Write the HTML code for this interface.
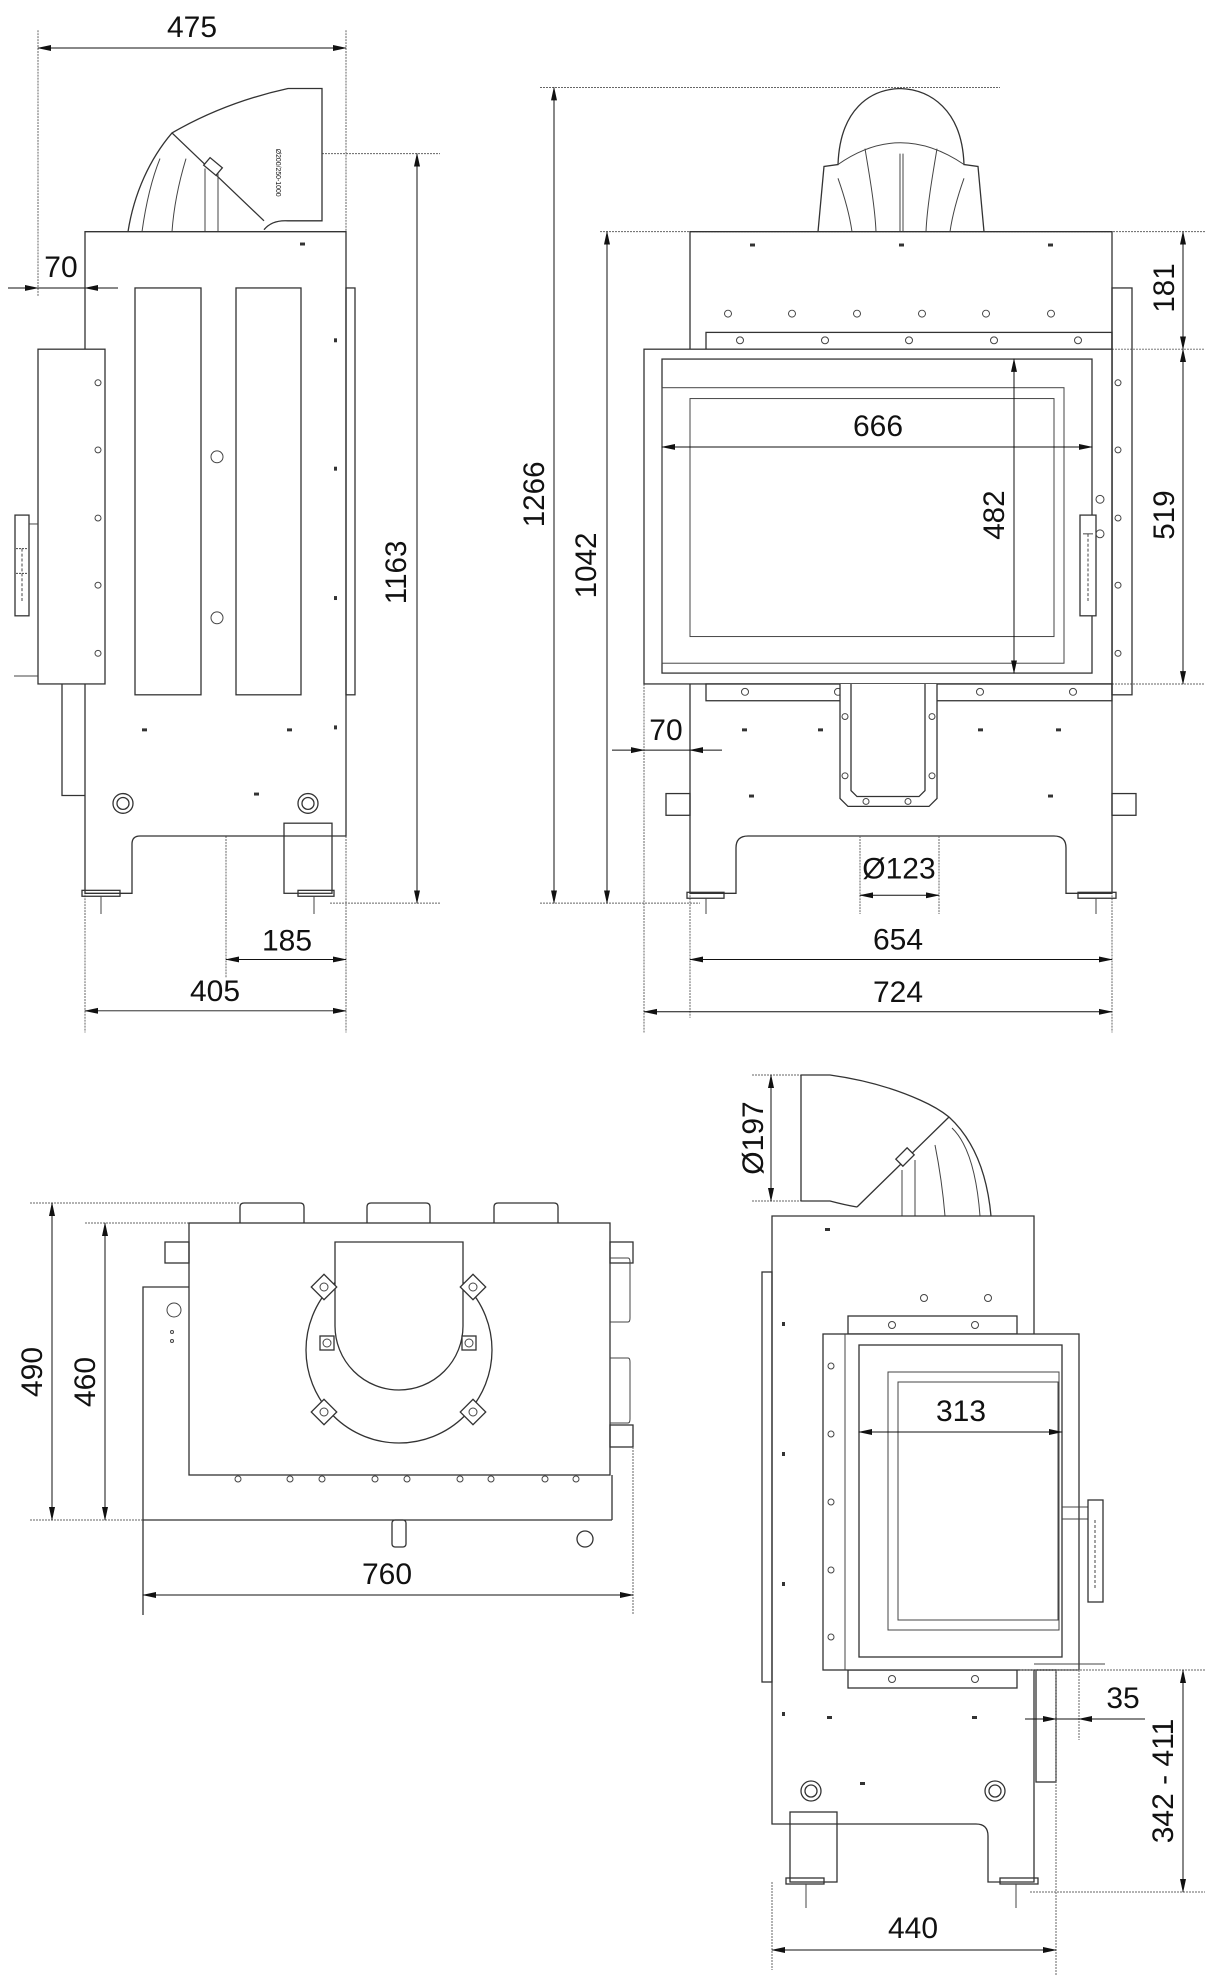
<!DOCTYPE html>
<html><head><meta charset="utf-8"><style>
html,body{margin:0;padding:0;background:#fff}
svg{display:block}
text{font-family:"Liberation Sans",sans-serif;font-size:30px;fill:#111}
.v{font-family:"Liberation Sans",sans-serif;font-size:30px}
.s{fill:none;stroke:#333;stroke-width:1.3}
.t{fill:none;stroke:#444;stroke-width:1}
.d{fill:none;stroke:#111;stroke-width:1}
.x{fill:none;stroke:#666;stroke-width:1;stroke-dasharray:2 1}
.w{fill:#fff;stroke:#333;stroke-width:1.3}
</style></head><body>
<svg width="1227" height="1981" viewBox="0 0 1227 1981" xmlns="http://www.w3.org/2000/svg">
<defs>
<marker id="a" markerWidth="14" markerHeight="8" refX="13" refY="4" orient="auto-start-reverse" markerUnits="userSpaceOnUse"><path d="M0,1 L14,4 L0,7 Z" fill="#111"/></marker>
</defs>

<g transform="translate(0,0.6) scale(1,0.9875)">
<!-- ============ TOP LEFT: SIDE VIEW ============ -->
<g>
<line class="x" x1="38" y1="30" x2="38" y2="300"/>
<line class="x" x1="346" y1="30" x2="346" y2="1045"/>
<line class="x" x1="85" y1="234" x2="85" y2="1045"/>
<line class="d" x1="38" y1="48" x2="346" y2="48" marker-start="url(#a)" marker-end="url(#a)"/>
<text x="192" y="37" text-anchor="middle">475</text>
<line class="d" x1="8" y1="291" x2="38" y2="291" marker-end="url(#a)"/>
<line class="d" x1="38" y1="291" x2="85" y2="291"/>
<line class="d" x1="118" y1="291" x2="85" y2="291" marker-end="url(#a)"/>
<text x="61" y="280" text-anchor="middle">70</text>
<line class="x" x1="322" y1="155" x2="440" y2="155"/>
<line class="x" x1="330" y1="914" x2="440" y2="914"/>
<line class="d" x1="417" y1="155" x2="417" y2="914" marker-start="url(#a)" marker-end="url(#a)"/>
<text class="v" transform="translate(406,579) rotate(-90)" text-anchor="middle">1163</text>
<line class="x" x1="226" y1="846" x2="226" y2="990"/>
<line class="d" x1="226" y1="971" x2="346" y2="971" marker-start="url(#a)" marker-end="url(#a)"/>
<text x="287" y="962" text-anchor="middle">185</text>
<line class="d" x1="85" y1="1023" x2="346" y2="1023" marker-start="url(#a)" marker-end="url(#a)"/>
<text x="215" y="1013" text-anchor="middle">405</text>

<path class="s" d="M128,234 C134,195 150,160 172,134 Q225,103 288,89 L322,89 L322,223 L288,223 Q272,222 264,232"/>
<line class="s" x1="172" y1="134" x2="264" y2="223"/>
<path class="t" d="M142,234 C146,205 152,180 160,160"/>
<path class="t" d="M172,234 C174,205 180,180 186,160"/>
<line class="t" x1="205" y1="170" x2="205" y2="234"/>
<line class="t" x1="218" y1="175" x2="218" y2="234"/>
<rect class="w" x="205" y="163" width="16" height="10" transform="rotate(40 213 168)"/>
<text x="276" y="150" style="font-size:7px" transform="rotate(90 276 150)">Ø200/250-1000</text>

<path class="s" d="M85,234 H346 V846 H140 Q132,846 132,854 V904 H85 Z"/>
<rect class="s" x="284" y="833" width="48" height="71"/>
<rect class="s" x="82" y="901" width="38" height="6"/>
<rect class="s" x="298" y="901" width="36" height="6"/>
<line class="t" x1="101" y1="907" x2="101" y2="925"/><line class="t" x1="314" y1="907" x2="314" y2="925"/>
<rect class="s" x="135" y="291" width="66" height="412"/>
<rect class="s" x="236" y="291" width="65" height="412"/>
<rect class="s" x="346" y="291" width="9" height="412"/>
<rect class="w" x="38" y="353" width="67" height="339"/>
<rect class="w" x="15" y="521" width="14" height="102"/>
<line class="t" x1="29" y1="530" x2="38" y2="530"/>
<line class="t" x1="16" y1="555" x2="28" y2="555" stroke-dasharray="2 1"/>
<line class="t" x1="16" y1="580" x2="28" y2="580" stroke-dasharray="2 1"/>
<line class="t" x1="22" y1="555" x2="22" y2="610" stroke-dasharray="3 2"/>
<g class="t">
<circle cx="98" cy="387" r="3"/><circle cx="98" cy="455" r="3"/><circle cx="98" cy="524" r="3"/><circle cx="98" cy="592" r="3"/><circle cx="98" cy="661" r="3"/>
<circle cx="217" cy="462" r="6"/><circle cx="217" cy="625" r="6"/>
</g>
<polyline class="s" points="62,692 62,805 85,805"/>
<line class="t" x1="14" y1="684" x2="38" y2="684"/>
<g class="s"><circle cx="123" cy="813" r="10"/><circle cx="123" cy="813" r="6"/><circle cx="308" cy="813" r="10"/><circle cx="308" cy="813" r="6"/></g>
<g fill="#333"><rect x="300" y="245" width="5" height="3"/><rect x="334" y="342" width="3" height="4"/><rect x="334" y="472" width="3" height="4"/><rect x="334" y="603" width="3" height="4"/><rect x="334" y="734" width="3" height="4"/><rect x="142" y="737" width="5" height="3"/><rect x="287" y="737" width="5" height="3"/><rect x="254" y="802" width="5" height="3"/></g>
</g>

<!-- ============ TOP RIGHT: FRONT VIEW ============ -->
<g>
<line class="x" x1="540" y1="88" x2="1000" y2="88"/>
<line class="x" x1="600" y1="234" x2="1205" y2="234"/>
<line class="x" x1="540" y1="914" x2="700" y2="914"/>
<line class="x" x1="644" y1="353" x2="644" y2="1045"/>
<line class="x" x1="690" y1="690" x2="690" y2="1030"/>
<line class="x" x1="1112" y1="234" x2="1112" y2="1045"/>
<line class="x" x1="1112" y1="353" x2="1205" y2="353"/>
<line class="x" x1="1112" y1="692" x2="1205" y2="692"/>
<line class="d" x1="554" y1="88" x2="554" y2="914" marker-start="url(#a)" marker-end="url(#a)"/>
<text class="v" transform="translate(544,500) rotate(-90)" text-anchor="middle">1266</text>
<line class="d" x1="607" y1="234" x2="607" y2="914" marker-start="url(#a)" marker-end="url(#a)"/>
<text class="v" transform="translate(596,572) rotate(-90)" text-anchor="middle">1042</text>
<line class="d" x1="1183" y1="234" x2="1183" y2="353" marker-start="url(#a)" marker-end="url(#a)"/>
<text class="v" transform="translate(1174,291) rotate(-90)" text-anchor="middle">181</text>
<line class="d" x1="1183" y1="353" x2="1183" y2="692" marker-start="url(#a)" marker-end="url(#a)"/>
<text class="v" transform="translate(1174,521) rotate(-90)" text-anchor="middle">519</text>

<path class="s" d="M818,234 L824,168 L838,166 C840,110 870,90 900,89 C930,90 962,110 964,166 L978,168 L984,234"/>
<path class="t" d="M838,166 Q900,122 964,166"/>
<path class="t" d="M838,180 C845,200 850,220 852,234"/>
<path class="t" d="M964,180 C957,200 952,220 950,234"/>
<line class="t" x1="900" y1="155" x2="900" y2="234"/>
<line class="t" x1="903" y1="155" x2="903" y2="234"/>
<path class="t" d="M865,150 C870,180 875,210 876,234"/>
<path class="t" d="M937,150 C932,180 927,210 926,234"/>

<path class="s" d="M690,234 H1112 V904 H1066 V858 Q1066,846 1054,846 H748 Q736,846 736,858 V904 H690 Z"/>
<rect class="s" x="687" y="903" width="37" height="6"/><rect class="s" x="1078" y="903" width="38" height="6"/>
<line class="t" x1="706" y1="909" x2="706" y2="925"/><line class="t" x1="1096" y1="909" x2="1096" y2="925"/>
<rect class="s" x="706" y="336" width="406" height="17"/>
<g class="t">
<circle cx="728" cy="317" r="3.5"/><circle cx="792" cy="317" r="3.5"/><circle cx="857" cy="317" r="3.5"/><circle cx="922" cy="317" r="3.5"/><circle cx="986" cy="317" r="3.5"/><circle cx="1051" cy="317" r="3.5"/>
<circle cx="740" cy="344" r="3.5"/><circle cx="825" cy="344" r="3.5"/><circle cx="909" cy="344" r="3.5"/><circle cx="994" cy="344" r="3.5"/><circle cx="1078" cy="344" r="3.5"/>
</g>
<g fill="#333"><rect x="750" y="246" width="5" height="3"/><rect x="899" y="246" width="5" height="3"/><rect x="1048" y="246" width="5" height="3"/>
<rect x="742" y="737" width="5" height="3"/><rect x="818" y="737" width="5" height="3"/><rect x="978" y="737" width="5" height="3"/><rect x="1056" y="737" width="5" height="3"/>
<rect x="749" y="804" width="5" height="3"/><rect x="1048" y="804" width="5" height="3"/></g>
<rect class="w" x="644" y="353" width="468" height="339"/>
<rect class="s" x="662" y="363" width="430" height="318"/>
<rect class="t" x="662" y="392" width="402" height="279"/>
<rect class="t" x="690" y="403" width="364" height="241"/>
<rect class="w" x="1080" y="521" width="16" height="102"/>
<line class="t" x1="1083" y1="540" x2="1093" y2="540"/><line class="t" x1="1088" y1="540" x2="1088" y2="610" stroke-dasharray="3 2"/>
<circle class="t" cx="1100" cy="505" r="4"/><circle class="t" cx="1100" cy="540" r="4"/>
<rect class="s" x="1112" y="291" width="20" height="412"/>
<g class="t"><circle cx="1118" cy="387" r="3"/><circle cx="1118" cy="455" r="3"/><circle cx="1118" cy="524" r="3"/><circle cx="1118" cy="592" r="3"/><circle cx="1118" cy="661" r="3"/></g>
<rect class="s" x="706" y="692" width="406" height="17"/>
<g class="t"><circle cx="745" cy="700" r="3.5"/><circle cx="838" cy="700" r="3.5"/><circle cx="980" cy="700" r="3.5"/><circle cx="1073" cy="700" r="3.5"/></g>
<path class="w" d="M840,692 V808 L848,816 H929 L937,808 V692"/>
<path class="s" d="M851,692 V800 L857,806 H919 L925,800 V692"/>
<g class="t"><circle cx="845" cy="725" r="3"/><circle cx="845" cy="785" r="3"/><circle cx="932" cy="725" r="3"/><circle cx="932" cy="785" r="3"/><circle cx="866" cy="811" r="3"/><circle cx="908" cy="811" r="3"/></g>
<rect class="s" x="666" y="803" width="24" height="22"/>
<rect class="s" x="1112" y="803" width="24" height="22"/>
<line class="d" x1="612" y1="759" x2="644" y2="759" marker-end="url(#a)"/>
<line class="d" x1="644" y1="759" x2="690" y2="759"/>
<line class="d" x1="722" y1="759" x2="690" y2="759" marker-end="url(#a)"/>
<text x="666" y="749" text-anchor="middle">70</text>
<line class="d" x1="662" y1="452" x2="1092" y2="452" marker-start="url(#a)" marker-end="url(#a)"/>
<text x="878" y="441" text-anchor="middle">666</text>
<line class="d" x1="1014" y1="363" x2="1014" y2="681" marker-start="url(#a)" marker-end="url(#a)"/>
<text class="v" transform="translate(1004,521) rotate(-90)" text-anchor="middle">482</text>
<line class="x" x1="860" y1="846" x2="860" y2="925"/>
<line class="x" x1="939" y1="846" x2="939" y2="925"/>
<line class="d" x1="860" y1="906" x2="939" y2="906" marker-start="url(#a)" marker-end="url(#a)"/>
<text x="899" y="889" text-anchor="middle">Ø123</text>
<line class="d" x1="690" y1="971" x2="1112" y2="971" marker-start="url(#a)" marker-end="url(#a)"/>
<text x="898" y="961" text-anchor="middle">654</text>
<line class="d" x1="644" y1="1024" x2="1112" y2="1024" marker-start="url(#a)" marker-end="url(#a)"/>
<text x="898" y="1014" text-anchor="middle">724</text>
</g>
</g>

<!-- ============ BOTTOM LEFT: TOP VIEW ============ -->
<g>
<line class="x" x1="30" y1="1203" x2="240" y2="1203"/>
<line class="x" x1="85" y1="1223" x2="189" y2="1223"/>
<line class="x" x1="30" y1="1520" x2="143" y2="1520"/>
<line class="d" x1="52" y1="1203" x2="52" y2="1520" marker-start="url(#a)" marker-end="url(#a)"/>
<text transform="translate(42,1372) rotate(-90)" text-anchor="middle">490</text>
<line class="d" x1="105" y1="1223" x2="105" y2="1520" marker-start="url(#a)" marker-end="url(#a)"/>
<text transform="translate(95,1382) rotate(-90)" text-anchor="middle">460</text>
<path class="s" d="M240,1223 V1207 Q240,1203 244,1203 H300 Q304,1203 304,1207 V1223"/>
<path class="s" d="M367,1223 V1207 Q367,1203 371,1203 H426 Q430,1203 430,1207 V1223"/>
<path class="s" d="M494,1223 V1207 Q494,1203 498,1203 H554 Q558,1203 558,1207 V1223"/>
<path class="s" d="M143,1615 V1287 H189"/>
<line class="s" x1="143" y1="1520" x2="612" y2="1520"/>
<line class="s" x1="612" y1="1475" x2="612" y2="1520"/>
<rect class="w" x="189" y="1223" width="421" height="252"/>
<rect class="s" x="165" y="1242" width="24" height="21"/>
<circle class="t" cx="174" cy="1310" r="7"/>
<circle class="t" cx="172" cy="1332" r="1.5"/><circle class="t" cx="172" cy="1341" r="1.5"/>
<rect class="s" x="610" y="1242" width="23" height="21"/>
<rect class="s" x="610" y="1425" width="23" height="22"/>
<path class="t" d="M610,1258 H628 Q630,1258 630,1262 V1318 Q630,1322 628,1322 H610"/>
<path class="t" d="M610,1358 H628 Q630,1358 630,1362 V1419 Q630,1423 628,1423 H610"/>
<circle class="s" cx="399" cy="1350" r="93"/>
<path class="w" d="M335,1242 H463 V1326 A64,64 0 0 1 335,1326 Z"/>
<g class="w"><rect x="315" y="1278" width="18" height="18" transform="rotate(45 324 1287)"/><rect x="464" y="1278" width="18" height="18" transform="rotate(45 473 1287)"/><rect x="315" y="1403" width="18" height="18" transform="rotate(45 324 1412)"/><rect x="464" y="1403" width="18" height="18" transform="rotate(45 473 1412)"/>
<rect x="320" y="1336" width="14" height="14"/><rect x="462" y="1336" width="14" height="14"/></g>
<g class="t"><circle cx="324" cy="1287" r="4"/><circle cx="473" cy="1287" r="4"/><circle cx="324" cy="1412" r="4"/><circle cx="473" cy="1412" r="4"/><circle cx="327" cy="1343" r="4"/><circle cx="469" cy="1343" r="4"/></g>
<g class="t"><circle cx="238" cy="1479" r="3"/><circle cx="290" cy="1479" r="3"/><circle cx="322" cy="1479" r="3"/><circle cx="375" cy="1479" r="3"/><circle cx="407" cy="1479" r="3"/><circle cx="460" cy="1479" r="3"/><circle cx="491" cy="1479" r="3"/><circle cx="545" cy="1479" r="3"/><circle cx="576" cy="1479" r="3"/></g>
<rect class="s" x="392" y="1520" width="14" height="27" rx="3"/>
<circle class="s" cx="585" cy="1539" r="8"/>
<line class="x" x1="633" y1="1447" x2="633" y2="1615"/>
<line class="d" x1="143" y1="1595" x2="633" y2="1595" marker-start="url(#a)" marker-end="url(#a)"/>
<text x="387" y="1584" text-anchor="middle">760</text>
</g>

<!-- ============ BOTTOM RIGHT: SIDE VIEW 2 ============ -->
<g>
<line class="x" x1="752" y1="1075" x2="801" y2="1075"/>
<line class="x" x1="752" y1="1201" x2="801" y2="1201"/>
<line class="d" x1="771" y1="1075" x2="771" y2="1201" marker-start="url(#a)" marker-end="url(#a)"/>
<text class="v" transform="translate(763,1138) rotate(-90)" text-anchor="middle">Ø197</text>
<path class="s" d="M801,1075 H830 Q880,1082 920,1100 Q938,1108 949,1117 Q985,1150 991,1216"/>
<line class="s" x1="801" y1="1075" x2="801" y2="1201"/>
<path class="s" d="M801,1201 H830 Q845,1205 857,1207"/>
<line class="s" x1="949" y1="1117" x2="857" y2="1207"/>
<path class="t" d="M952,1128 Q975,1150 980,1216"/><path class="t" d="M935,1145 Q942,1180 945,1216"/>
<line class="t" x1="902" y1="1170" x2="902" y2="1216"/><line class="t" x1="915" y1="1160" x2="915" y2="1216"/>
<rect class="w" x="897" y="1152" width="16" height="10" transform="rotate(-45 905 1157)"/>
<path class="s" d="M772,1216 H1034 V1882 H988 V1836 Q988,1824 976,1824 H772 Z"/>
<rect class="s" x="790" y="1812" width="47" height="70"/>
<rect class="s" x="786" y="1878" width="38" height="6"/><rect class="s" x="1000" y="1878" width="38" height="6"/>
<line class="t" x1="806" y1="1884" x2="806" y2="1908"/><line class="t" x1="1016" y1="1884" x2="1016" y2="1908"/>
<rect class="s" x="762" y="1272" width="10" height="410"/>
<g fill="#333"><rect x="825" y="1228" width="5" height="3"/><rect x="782" y="1322" width="3" height="4"/><rect x="782" y="1452" width="3" height="4"/><rect x="782" y="1582" width="3" height="4"/><rect x="782" y="1712" width="3" height="4"/><rect x="827" y="1716" width="5" height="3"/><rect x="972" y="1716" width="5" height="3"/><rect x="860" y="1782" width="5" height="3"/></g>
<g class="t"><circle cx="924" cy="1298" r="3.5"/><circle cx="988" cy="1298" r="3.5"/></g>
<rect class="s" x="848" y="1316" width="169" height="18"/>
<rect class="s" x="848" y="1670" width="169" height="18"/>
<g class="t"><circle cx="892" cy="1325" r="3.5"/><circle cx="975" cy="1325" r="3.5"/><circle cx="892" cy="1679" r="3.5"/><circle cx="975" cy="1679" r="3.5"/></g>
<rect class="w" x="823" y="1334" width="256" height="336"/>
<line class="t" x1="845" y1="1334" x2="845" y2="1670"/>
<g class="t"><circle cx="831" cy="1366" r="3"/><circle cx="831" cy="1434" r="3"/><circle cx="831" cy="1502" r="3"/><circle cx="831" cy="1570" r="3"/><circle cx="831" cy="1637" r="3"/></g>
<rect class="s" x="859" y="1345" width="203" height="312"/>
<rect class="t" x="888" y="1372" width="171" height="258"/>
<rect class="t" x="898" y="1382" width="160" height="238"/>
<path class="t" d="M1062,1507 H1088 M1062,1519 H1088"/>
<rect class="w" x="1088" y="1500" width="15" height="102"/>
<line class="t" x1="1095" y1="1520" x2="1095" y2="1590" stroke-dasharray="3 2"/>
<line class="t" x1="1034" y1="1664" x2="1105" y2="1664"/>
<rect class="s" x="1036" y="1670" width="20" height="112"/>
<g class="s"><circle cx="811" cy="1791" r="10"/><circle cx="811" cy="1791" r="6"/><circle cx="995" cy="1791" r="10"/><circle cx="995" cy="1791" r="6"/></g>
<line class="d" x1="859" y1="1432" x2="1062" y2="1432" marker-start="url(#a)" marker-end="url(#a)"/>
<text x="961" y="1421" text-anchor="middle">313</text>
<line class="x" x1="1056" y1="1670" x2="1056" y2="1975"/>
<line class="x" x1="1079" y1="1670" x2="1079" y2="1740"/>
<line class="d" x1="1025" y1="1719" x2="1056" y2="1719" marker-end="url(#a)"/>
<line class="d" x1="1056" y1="1719" x2="1079" y2="1719"/>
<line class="d" x1="1145" y1="1719" x2="1079" y2="1719" marker-end="url(#a)"/>
<text x="1123" y="1708" text-anchor="middle">35</text>
<line class="x" x1="1020" y1="1670" x2="1205" y2="1670"/>
<line class="x" x1="1030" y1="1892" x2="1205" y2="1892"/>
<line class="d" x1="1183" y1="1670" x2="1183" y2="1892" marker-start="url(#a)" marker-end="url(#a)"/>
<text class="v" transform="translate(1173,1781) rotate(-90)" text-anchor="middle">342 - 411</text>
<line class="x" x1="772" y1="1882" x2="772" y2="1970"/>
<line class="d" x1="772" y1="1950" x2="1056" y2="1950" marker-start="url(#a)" marker-end="url(#a)"/>
<text x="913" y="1938" text-anchor="middle">440</text>
</g>
</svg>
</body></html>
